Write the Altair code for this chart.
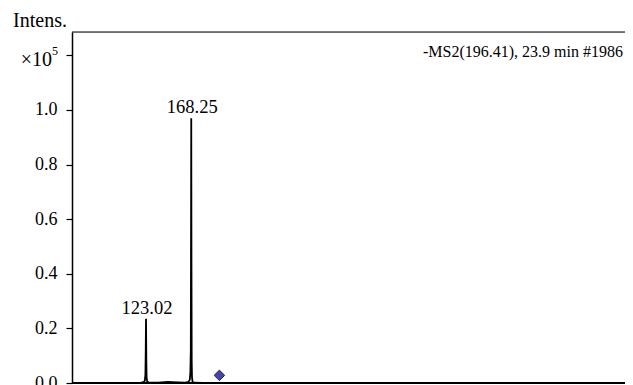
import altair as alt
import pandas as pd

# Spectrum trace (m/z, intensity in x10^5)
mz = [49, 100, 118, 120.5, 121.8, 122.4, 122.75, 123.02, 123.3, 123.6, 124.2, 125.5,
      135, 145, 155, 162, 165.5, 166.8, 167.4, 167.8, 168.05, 168.25, 168.45, 168.7,
      169.0, 169.6, 171, 180, 250, 400, 610]
inten = [0.0, 0.0, 0.001, 0.003, 0.008, 0.03, 0.12, 0.235, 0.09, 0.02, 0.006, 0.002,
         0.001, 0.004, 0.002, 0.001, 0.004, 0.012, 0.04, 0.12, 0.55, 0.97, 0.45, 0.08,
         0.02, 0.004, 0.001, 0.0, 0.0, 0.0, 0.0]

peak_mz = [123.02, 168.25]
peak_int = [0.235, 0.97]
peak_lbl = ["123.02", "168.25"]

prec_mz = [196.41]
prec_int = [0.028]

y_ticks = [round(0.1 * i, 1) for i in range(13)]

X_DOM = [49, 602]
Y_DOM = [0, 1.2857]
FONT = "Liberation Serif"
W, H = 553, 351

df = pd.DataFrame({"mz": mz, "i": inten})
dp = pd.DataFrame({"mz": peak_mz, "i": peak_int, "t": peak_lbl})
dd = pd.DataFrame({"mz": prec_mz, "i": prec_int})
one = pd.DataFrame({"k": [0]})

xs = alt.Scale(domain=X_DOM, nice=False, zero=False)
ys = alt.Scale(domain=Y_DOM, nice=False, zero=True)

line = alt.Chart(df).mark_line(color="black", strokeWidth=1.8, clip=True).encode(
    x=alt.X("mz:Q", scale=xs, axis=None),
    y=alt.Y("i:Q", scale=ys, axis=alt.Axis(
        values=y_ticks, format=".1f",
        labelExpr="(round(datum.value*10) % 2 == 0 && datum.value < 1.05) ? datum.label : ''",
        title=None, grid=False, domainColor="black", domainWidth=1.5,
        tickColor="black", tickSize=6, tickWidth=1.2,
        labelFont=FONT, labelFontSize=18, labelColor="black", labelPadding=9)),
)

labels = alt.Chart(dp).mark_text(font=FONT, fontSize=18.5, baseline="alphabetic",
                                 dy=-5, dx=1, color="black").encode(
    x=alt.X("mz:Q", scale=xs), y=alt.Y("i:Q", scale=ys), text="t:N")

diamond = alt.Chart(dd).mark_point(shape="diamond", filled=True, size=110,
                                   color="#4444aa", stroke="#222266",
                                   strokeWidth=1, opacity=1).encode(
    x=alt.X("mz:Q", scale=xs), y=alt.Y("i:Q", scale=ys))

top_rule = alt.Chart(one).mark_rule(color="black", strokeWidth=1.2).encode(
    x=alt.value(0), x2=alt.value(W), y=alt.value(0))
bottom_rule = alt.Chart(one).mark_rule(color="black", strokeWidth=2).encode(
    x=alt.value(0), x2=alt.value(W), y=alt.value(H))

title_txt = alt.Chart(one).mark_text(text="-MS2(196.41), 23.9 min #1986", font=FONT,
                                     fontSize=16, align="right",
                                     baseline="alphabetic", color="black").encode(
    x=alt.value(W - 2), y=alt.value(25))
intens_txt = alt.Chart(one).mark_text(text="Intens.", font=FONT, fontSize=20,
                                      align="right", baseline="alphabetic",
                                      color="black").encode(
    x=alt.value(-5), y=alt.value(-5))
x10_txt = alt.Chart(one).mark_text(text="×10", font=FONT, fontSize=20,
                                   align="right", baseline="alphabetic",
                                   color="black").encode(
    x=alt.value(-20), y=alt.value(34))
exp_txt = alt.Chart(one).mark_text(text="5", font=FONT, fontSize=12,
                                   align="left", baseline="alphabetic",
                                   color="black").encode(
    x=alt.value(-20), y=alt.value(23))

chart = alt.layer(line, labels, diamond, top_rule, bottom_rule, title_txt,
                  intens_txt, x10_txt, exp_txt).properties(
    width=W, height=H,
    autosize=alt.AutoSizeParams(type="none"),
    padding={"left": 64, "top": 24, "right": 0, "bottom": 2},
).configure_view(stroke=None).configure(background="white")

chart.save("out.html", embed_options={"renderer": "svg", "actions": False})
